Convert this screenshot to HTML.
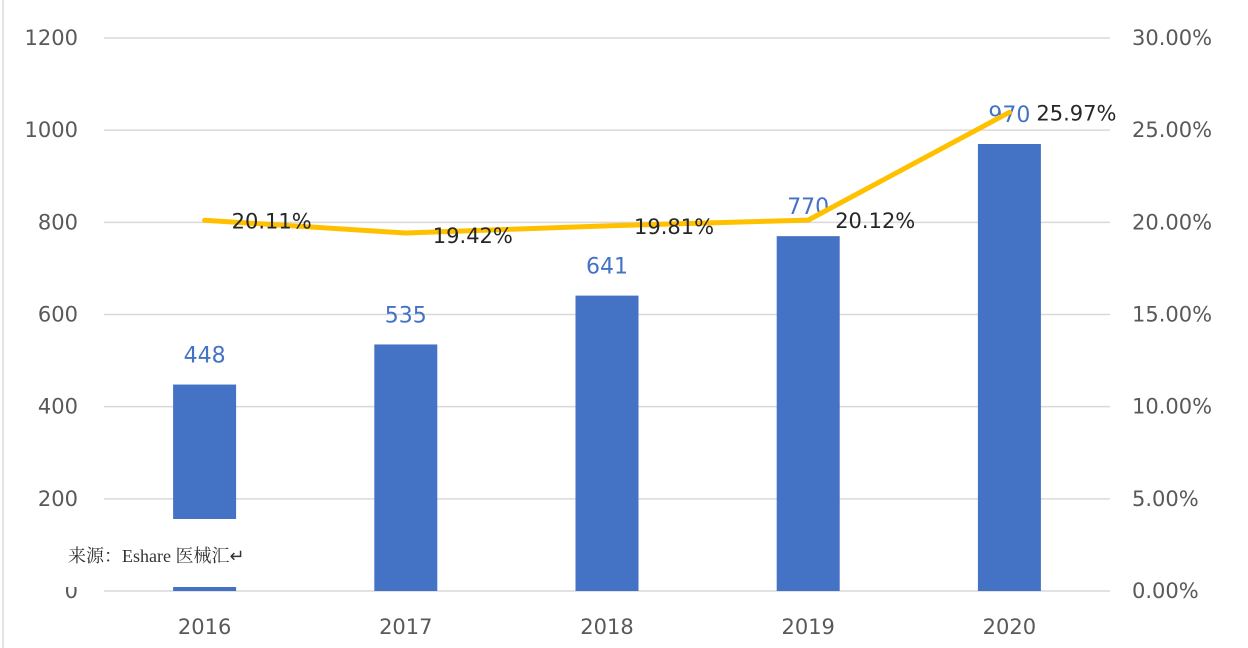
<!DOCTYPE html>
<html><head><meta charset="utf-8"><style>
html,body{margin:0;padding:0;background:#fff;}
svg{display:block;font-family:"DejaVu Sans","Noto Sans CJK SC",sans-serif;}
</style></head><body>
<svg id="chart" width="1248" height="648"></svg>
<script>
const categories=["2016","2017","2018","2019","2020"];
const revenue=[448,535,641,770,970];
const growth=[20.11,19.42,19.81,20.12,25.97];
const leftTicks=[0,200,400,600,800,1000,1200];
const rightTicks=[0,5,10,15,20,25,30];
const NS="http://www.w3.org/2000/svg";
const svg=document.getElementById('chart');
const x0=104,x1=1110,yBase=591,yTop=38;
const yL=v=>yBase-(v/1200)*(yBase-yTop);
const yR=v=>yBase-(v/30)*(yBase-yTop);
const band=(x1-x0)/categories.length;
const xC=i=>x0+band*(i+0.5);
function mk(tag,attrs,parent){const e=document.createElementNS(NS,tag);for(const k in attrs)e.setAttribute(k,attrs[k]);(parent||svg).appendChild(e);return e;}
leftTicks.forEach(v=>{
  const g=mk('line',{x1:x0,x2:x1,y1:yL(v),y2:yL(v),stroke:'#d9d9d9','stroke-width':1.5});
  
  
  const t=mk('text',{x:78,y:yL(v)+7,'text-anchor':'end','font-size':21,fill:'#595959'});
  t.textContent=v;
  
  
});
rightTicks.forEach(v=>{
  const t=mk('text',{x:1132,y:yR(v)+7,'font-size':21,fill:'#595959'});
  t.textContent=v.toFixed(2)+'%';
  
  
});
categories.forEach((c,i)=>{
  const t=mk('text',{x:xC(i),y:634,'text-anchor':'middle','font-size':21,fill:'#595959'});
  t.textContent=c;
  
  
});
const bw=63;
revenue.forEach((v,i)=>{
  const r=mk('rect',{x:xC(i)-bw/2,y:yL(v),width:bw,height:yBase-yL(v),fill:'#4472c4'});
  
  
  const t=mk('text',{x:xC(i),y:yL(v)-22,'text-anchor':'middle','font-size':22,fill:'#4472c4'});
  t.textContent=v;
  
  
});
let d='';
growth.forEach((v,i)=>{d+=(i?'L':'M')+xC(i)+' '+yR(v);});
const line=mk('path',{d:d,fill:'none',stroke:'#ffc000','stroke-width':5,'stroke-linejoin':'round','stroke-linecap':'round'});


growth.forEach((v,i)=>{
  const t=mk('text',{x:xC(i)+27,y:yR(v)+(i==1?10:8),'font-size':21,fill:'#262626'});
  t.textContent=v.toFixed(2)+'%';
  
  
});
const ov=mk('rect',{x:6,y:519,width:284,height:68,fill:'#fff'});


const border=mk('line',{x1:3,y1:0,x2:3,y2:648,stroke:'#e4e4e4','stroke-width':2});


const src=mk('text',{x:68,y:562,'font-size':18,fill:'#333','font-family':'"Liberation Serif","Noto Serif CJK SC",serif'});
src.textContent='来源：Eshare 医械汇↵';


</script>
</body></html>
